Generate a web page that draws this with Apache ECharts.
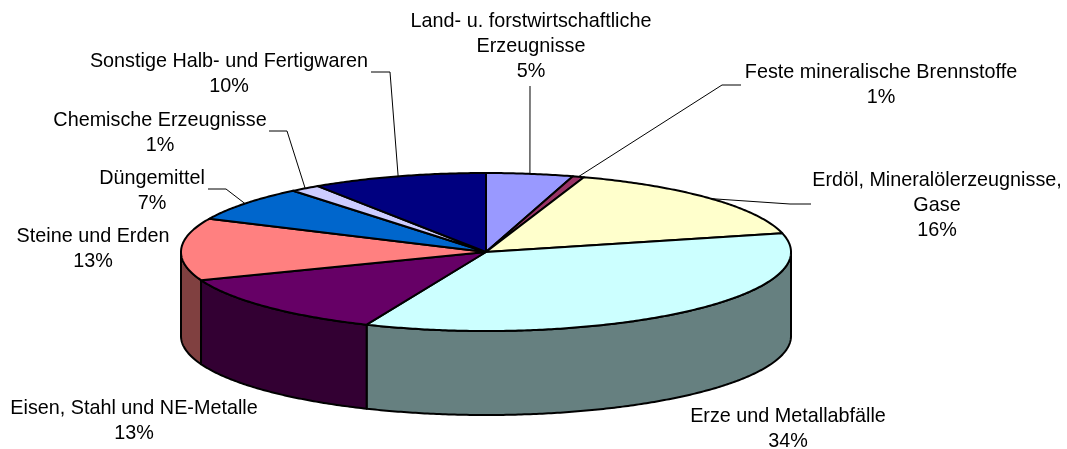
<!DOCTYPE html>
<html>
<head>
<meta charset="utf-8">
<style>html,body{margin:0;padding:0;background:#fff}#c{width:1067px;height:449px}</style>
<script src="https://cdn.jsdelivr.net/npm/echarts@6/dist/echarts.min.js"></script>
</head>
<body>
<div id="c"></div>
<script>
const categories = ['Land- u. forstwirtschaftliche\nErzeugnisse','Feste mineralische Brennstoffe','Erdöl, Mineralölerzeugnisse,\nGase','Erze und Metallabfälle','Eisen, Stahl und NE-Metalle','Steine und Erden','Düngemittel','Chemische Erzeugnisse','Sonstige Halb- und Fertigwaren'];
const sliceShares = [4.6,0.6,16,35.2,12.8,12.7,7.2,1.6,9.3];
const percentLabels = ['5%','1%','16%','34%','13%','13%','7%','1%','10%'];
const colors = ['#9999FF','#993366','#FFFFCC','#CCFFFF','#660066','#FF8080','#0066CC','#CCCCFF','#000080'];

// layout (not data)
const pie = {cx:486, cy:252, rx:305, ry:79, depth:84};
const labelLayout = [
  {x:531,y:46.5,elbow:[[530,86]]},
  {x:881,y:85.5,elbow:[[741,85],[722,85]]},
  {x:937,y:206,elbow:[[811,204],[790,204]]},
  {x:788,y:429,elbow:null},
  {x:134,y:421.5,elbow:null},
  {x:93,y:249,elbow:null},
  {x:152,y:191.5,elbow:[[208,189],[226,189]]},
  {x:160,y:133,elbow:[[269,131],[287,131]]},
  {x:229,y:74,elbow:[[371,72],[390,72]]}
];
const FONT = '"Liberation Sans", Arial, sans-serif';
const total = sliceShares.reduce((a,b)=>a+b,0);
const cum = [0];
sliceShares.forEach(v=>cum.push(cum[cum.length-1]+v));
const ang = v => echarts.number.linearMap(v,[0,total],[0,Math.PI*2],true);
const pt = (t,dy=0) => [pie.cx+pie.rx*Math.sin(t), pie.cy-pie.ry*Math.cos(t)+dy];
function arc(a,b,dy=0){
  const n=Math.max(2,Math.ceil((b-a)/0.01)),out=[];
  for(let i=0;i<=n;i++) out.push(pt(a+(b-a)*i/n,dy));
  return out;
}
function half(hex){
  const n=parseInt(hex.slice(1),16);
  return 'rgb('+[(n>>16)&255,(n>>8)&255,n&255].map(c=>Math.round(c/2)).join(',')+')';
}
const edge={stroke:'#000',lineWidth:2,lineJoin:'round'};
function renderItem(params,api){
  const i=api.value(0);
  const a=ang(cum[i]), b=ang(cum[i+1]);
  const children=[];
  const wa=Math.max(a,Math.PI/2), wb=Math.min(b,Math.PI*1.5);
  if(wb>wa){
    const top=arc(wa,wb), bot=arc(wa,wb,pie.depth).reverse();
    children.push({type:'polygon',z2:1,shape:{points:top.concat(bot)},
      style:Object.assign({fill:half(colors[i])},edge)});
  }
  children.push({type:'polygon',z2:2,shape:{points:[[pie.cx,pie.cy]].concat(arc(a,b))},
    style:Object.assign({fill:colors[i]},edge)});
  const L=labelLayout[i];
  if(L.elbow){
    children.push({type:'polyline',z2:3,shape:{points:L.elbow.concat([pt((a+b)/2)])},
      style:{fill:null,stroke:'#000',lineWidth:1}});
  }
  children.push({type:'text',z2:4,style:{
    text:categories[i]+'\n'+percentLabels[i],x:L.x,y:L.y,align:'center',verticalAlign:'middle',
    fontFamily:FONT,fontSize:19.8,lineHeight:25,fill:'#000'}});
  return {type:'group',children};
}
const chart=echarts.init(document.getElementById('c'),null,{renderer:'canvas'});
chart.setOption({
  animation:false,
  backgroundColor:'#fff',
  series:[{
    type:'custom',
    coordinateSystem:'none',
    renderItem,
    silent:true,
    clip:false,
    data:sliceShares.map((v,i)=>({name:categories[i],value:[i,v]}))
  }]
});
</script>
</body>
</html>
